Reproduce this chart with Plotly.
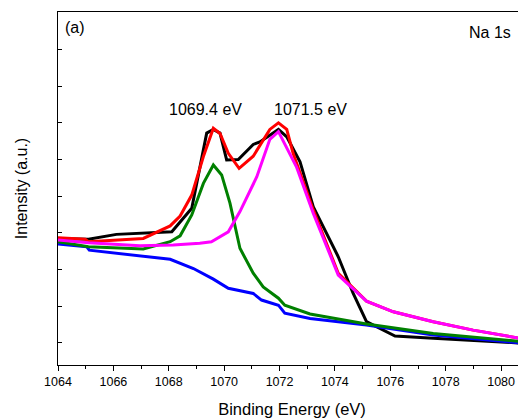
import plotly.graph_objects as go

# Binding energy (eV) / intensity (a.u.)
exp_x = [1064.00, 1065.10, 1066.11, 1067.07, 1068.11, 1068.83, 1069.37, 1069.61, 1069.85, 1070.09,
         1070.51, 1071.05, 1071.29, 1071.96, 1072.26, 1072.74, 1073.22, 1074.12, 1074.66, 1075.14,
         1076.17, 1077.55, 1080.90]
exp_y = [2.85, 2.83, 2.96, 3.00, 3.03, 3.67, 5.72, 5.82, 5.72, 4.99,
         5.00, 5.41, 5.48, 5.82, 5.62, 4.94, 3.71, 2.35, 1.35, 0.58,
         0.19, 0.13, -0.01]

fit_x = [1064.00, 1064.98, 1065.10, 1067.08, 1068.05, 1068.41, 1068.83, 1069.25, 1069.61, 1069.85,
         1070.15, 1070.54, 1071.05, 1071.65, 1071.96, 1072.26, 1072.49, 1073.22, 1074.12, 1075.14,
         1076.11, 1077.55, 1078.99, 1080.90]
fit_y = [2.87, 2.83, 2.76, 2.85, 3.19, 3.46, 4.03, 5.08, 5.85, 5.71,
         5.17, 4.76, 5.09, 5.82, 6.00, 5.82, 5.17, 3.62, 1.90, 1.14,
         0.85, 0.58, 0.35, 0.10]

p1_x = [1064.00, 1065.10, 1067.08, 1068.05, 1068.41, 1068.83, 1069.25, 1069.61, 1069.91, 1070.21,
        1070.57, 1071.05, 1071.41, 1071.96, 1072.19, 1073.10, 1075.14, 1077.55, 1080.90]
p1_y = [2.76, 2.62, 2.56, 2.76, 2.92, 3.49, 4.35, 4.85, 4.58, 3.81,
        2.58, 1.90, 1.53, 1.22, 1.03, 0.79, 0.52, 0.26, 0.03]

p2_x = [1064.00, 1065.10, 1066.96, 1068.16, 1069.12, 1069.54, 1070.15, 1070.57, 1071.18, 1071.65,
        1071.96, 1072.61, 1073.22, 1074.12, 1075.14, 1076.11, 1077.55, 1078.99, 1080.90]
p2_y = [2.81, 2.73, 2.65, 2.67, 2.72, 2.76, 3.03, 3.58, 4.53, 5.55,
        5.76, 4.80, 3.53, 1.85, 1.14, 0.85, 0.58, 0.35, 0.10]

bg_x = [1064.00, 1065.04, 1065.13, 1068.05, 1068.89, 1069.61, 1070.15, 1071.05, 1071.35, 1071.96,
        1072.19, 1072.74, 1073.10, 1075.14, 1077.55, 1080.90]
bg_y = [2.70, 2.62, 2.53, 2.28, 2.03, 1.74, 1.49, 1.35, 1.17, 1.03,
        0.81, 0.72, 0.67, 0.49, 0.22, -0.01]

x_ticks = [1064, 1066, 1068, 1070, 1072, 1074, 1076, 1078, 1080]
peak_labels = ["1069.4 eV", "1071.5 eV"]
peak_label_x = [1069.31, 1073.13]
peak_label_y = [6.35, 6.35]

FONT = "Liberation Sans, Arial, sans-serif"
LW = 3

fig = go.Figure()
fig.add_trace(go.Scatter(x=exp_x, y=exp_y, mode="lines", line=dict(color="black", width=LW), showlegend=False))
fig.add_trace(go.Scatter(x=fit_x, y=fit_y, mode="lines", line=dict(color="red", width=LW), showlegend=False))
fig.add_trace(go.Scatter(x=bg_x, y=bg_y, mode="lines", line=dict(color="blue", width=LW), showlegend=False))
fig.add_trace(go.Scatter(x=p1_x, y=p1_y, mode="lines", line=dict(color="green", width=LW), showlegend=False))
fig.add_trace(go.Scatter(x=p2_x, y=p2_y, mode="lines", line=dict(color="magenta", width=LW), showlegend=False))

for t, x, y in zip(peak_labels, peak_label_x, peak_label_y):
    fig.add_annotation(x=x, y=y, text=t, showarrow=False, font=dict(size=16, color="black", family=FONT))

fig.add_annotation(x=0.011, y=0.9575, xref="paper", yref="paper", text="(a)", showarrow=False,
                   xanchor="left", yanchor="middle", font=dict(size=16, color="black", family=FONT))
fig.add_annotation(x=0.972, y=0.943, xref="paper", yref="paper", text="Na 1s", showarrow=False,
                   xanchor="right", yanchor="middle", font=dict(size=16, color="black", family=FONT))

# the page body adds an 8px offset; the figure is sized so the plot area lands where the reference has it
fig.update_layout(
    width=518, height=410,
    margin=dict(l=50, r=0, t=4, b=53),
    plot_bgcolor="white", paper_bgcolor="white",
    font=dict(family=FONT, color="black"),
    xaxis=dict(
        range=[1064, 1080.9],
        tickmode="array", tickvals=x_ticks, ticktext=[str(v) for v in x_ticks],
        ticks="outside", ticklen=5, tickwidth=1.2, tickcolor="black",
        minor=dict(dtick=1, ticks="outside", ticklen=3, tickwidth=1.2, tickcolor="black"),
        showline=True, linecolor="black", linewidth=1.3, mirror=True,
        showgrid=False, zeroline=False,
        ticklabeloverflow="allow",
        tickfont=dict(size=12.5, family=FONT),
        title=dict(text="Binding Energy (eV)", font=dict(size=16.5, family=FONT), standoff=15),
    ),
    yaxis=dict(
        range=[-0.6, 9.02],
        tickmode="linear", tick0=0, dtick=1,
        ticks="inside", ticklen=4, tickwidth=1.2, tickcolor="black",
        showticklabels=False,
        showline=True, linecolor="black", linewidth=1.3, mirror=False,
        showgrid=False, zeroline=False,
        title=dict(text="Intensity (a.u.)", font=dict(size=16, family=FONT), standoff=25),
    ),
)

fig.write_html("out.html")
